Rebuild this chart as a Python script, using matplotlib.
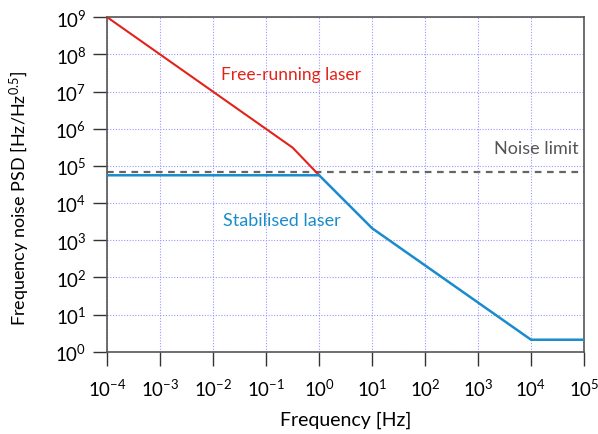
import matplotlib
matplotlib.use("Agg")
import matplotlib.pyplot as plt
from matplotlib.ticker import LogLocator, NullLocator

plt.rcParams['font.family'] = ['Lato', 'DejaVu Sans']
plt.rcParams['mathtext.fontset'] = 'custom'
plt.rcParams['mathtext.rm'] = 'Lato'
plt.rcParams['mathtext.it'] = 'Lato:italic'
plt.rcParams['mathtext.bf'] = 'Lato:bold'

# Data
free_f = [1e-4, 0.316, 1.0]
free_psd = [1e9, 3.1e5, 5.6e4]
stab_f = [1e-4, 1.0, 10.0, 1e4, 1e5]
stab_psd = [5.6e4, 5.6e4, 2.1e3, 2.1, 2.1]
noise_limit = 7.0e4
x_range = [1e-4, 1e5]
y_range = [1e0, 1e9]

red = '#e2231a'
blue = '#1a8ccc'

fig = plt.figure(figsize=(5.98, 4.35), dpi=100)
ax = fig.add_axes([107.3/598, 1 - 352.7/435, (584 - 107.3)/598, (352.7 - 18.3)/435])

ax.set_xscale('log')
ax.set_yscale('log')
ax.set_xlim(x_range)
ax.set_ylim(y_range)

ax.plot(free_f, free_psd, color=red, lw=1.5, zorder=3)
ax.plot(stab_f, stab_psd, color=blue, lw=1.8, zorder=3)
ax.axhline(noise_limit, color='#666666', lw=1.6, ls=(0, (3, 2.5)), zorder=2)

ax.xaxis.set_major_locator(LogLocator(base=10, numticks=20))
ax.yaxis.set_major_locator(LogLocator(base=10, numticks=20))
ax.xaxis.set_minor_locator(NullLocator())
ax.yaxis.set_minor_locator(NullLocator())

ax.grid(True, which='major', color='#9999ff', ls=(0, (1, 1.5)), lw=0.8)
ax.set_axisbelow(True)

for s in ax.spines.values():
    s.set_color('#555555')
    s.set_linewidth(1.2)

ax.tick_params(axis='both', which='major', direction='out', length=10, width=1.0,
               color='#333333', labelsize=13.5, pad=5)
ax.tick_params(axis='x', pad=9)

ax.set_xlabel('Frequency [Hz]', fontsize=14, labelpad=8)
ax.set_ylabel(r'Frequency noise PSD [Hz/Hz$^{0.5}$]', fontsize=13)
ax.yaxis.set_label_coords(-0.158, 0.46)

ax.text(0.29, 3e7, 'Free-running laser', color=red, fontsize=12.5,
        ha='center', va='center')
ax.text(0.2, 3.4e3, 'Stabilised laser', color=blue, fontsize=13,
        ha='center', va='center')
ax.text(8e4, 3.1e5, 'Noise limit', color='#555555', fontsize=13,
        ha='right', va='center')

fig.savefig('out.png', dpi=100)
